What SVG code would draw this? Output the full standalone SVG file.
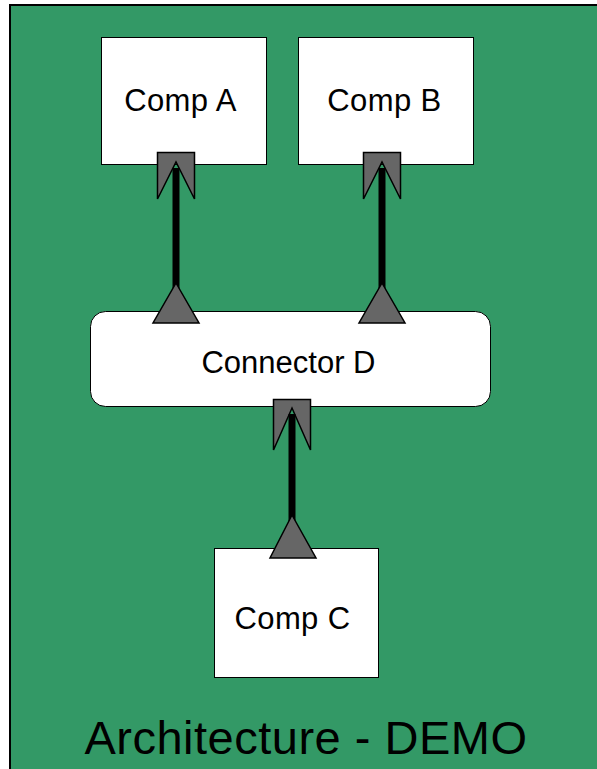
<svg xmlns="http://www.w3.org/2000/svg" width="597" height="769" viewBox="0 0 597 769">
<style>
.box{fill:#ffffff;stroke:#000000;stroke-width:1}
.lbl{font-family:"Liberation Sans",Arial,sans-serif;font-size:31px;fill:#000000;text-anchor:middle;letter-spacing:0.4px}
.title{font-family:"Liberation Sans",Arial,sans-serif;font-size:47px;fill:#000000;text-anchor:middle;letter-spacing:0.5px}
.line{stroke:#000000;stroke-width:7;fill:none}
.head{fill:#666666;stroke:#000000;stroke-width:1.5;stroke-linejoin:miter}
</style>
<rect x="0" y="0" width="597" height="769" fill="#ffffff"/>
<g id="frame">
<rect x="10" y="5" width="600" height="780" fill="#339966" stroke="#000000" stroke-width="2"/>
<text class="title" x="306" y="754">Architecture - DEMO</text>
</g>
<g id="compA">
<rect class="box" x="101.5" y="37.5" width="165" height="127"/>
<text class="lbl" x="180.5" y="110.5">Comp A</text>
</g>
<g id="compB">
<rect class="box" x="298.5" y="37.5" width="175" height="127"/>
<text class="lbl" x="384.5" y="110.5">Comp B</text>
</g>
<g id="connectorD">
<rect class="box" x="90.5" y="311.5" width="400" height="95" rx="15" ry="15" stroke-width="2"/>
<text class="lbl" x="288.5" y="373" style="letter-spacing:0">Connector D</text>
</g>
<g id="compC">
<rect class="box" x="214.5" y="548.5" width="164" height="129"/>
<text class="lbl" x="292.5" y="628.5">Comp C</text>
</g>
<g id="connectors">
<path class="head" d="M157.5,152.5 H194.5 V199 L176,162 L157.5,199 Z"/>
<line class="line" x1="176" y1="168" x2="176" y2="290"/>
<path class="head" d="M176,283 L199,323 L153,323 Z"/>
<path class="head" d="M363.5,152.5 H400.5 V199 L382,162 L363.5,199 Z"/>
<line class="line" x1="382" y1="168" x2="382" y2="290"/>
<path class="head" d="M382,283 L405,323 L359,323 Z"/>
<path class="head" d="M273.5,399.5 H310.5 V450 L292,408 L273.5,450 Z"/>
<line class="line" x1="292" y1="414" x2="292" y2="522"/>
<path class="head" d="M292,515 L316,558 L270,558 Z"/>
</g>
</svg>
